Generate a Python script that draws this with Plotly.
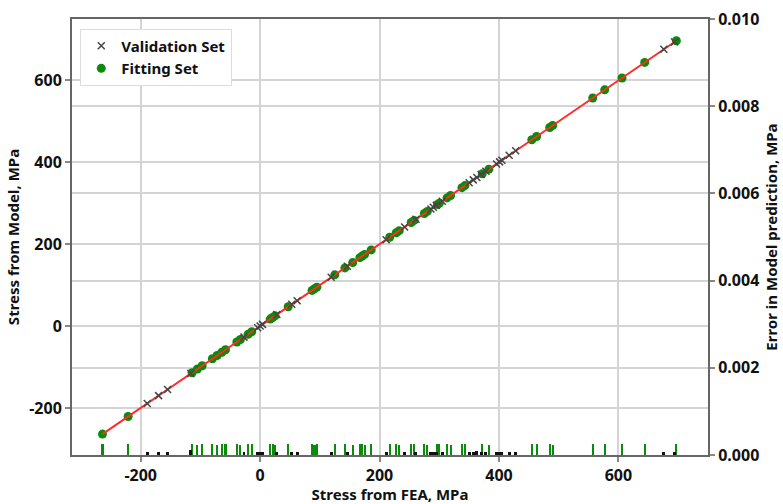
import plotly.graph_objects as go

# ---- data ----
fit_x = [-264, -221, -114, -105, -97, -80, -72, -64, -58, -39, -33, -20, -14,
         17, 21, 25, 47, 87, 91, 95, 125, 142, 155, 167, 171, 175, 186, 217,
         228, 233, 253, 258, 275, 280, 297, 300, 313, 319, 338, 343, 372, 383,
         455, 463, 485, 490, 557, 577, 606, 644, 697]
fit_y = [-264, -221, -114, -105, -97, -80, -72, -64, -58, -39, -33, -20, -14,
         17, 21, 25, 47, 87, 91, 95, 125, 142, 155, 167, 171, 175, 186, 217,
         228, 233, 253, 258, 275, 280, 297, 300, 313, 319, 338, 343, 372, 383,
         455, 463, 485, 490, 557, 577, 606, 644, 697]
fit_err = [0.00025, 0.00025, 0.00025, 0.00024, 0.00025, 0.00025, 0.00024, 0.00025,
           0.00025, 0.00025, 0.00024, 0.00025, 0.00025, 0.00026, 0.00025, 0.00024,
           0.00025, 0.00025, 0.00024, 0.00025, 0.00025, 0.00025, 0.00024, 0.00025,
           0.00025, 0.00024, 0.00025, 0.00025, 0.00025, 0.00024, 0.00025, 0.00025,
           0.00025, 0.00024, 0.00025, 0.00025, 0.00025, 0.00024, 0.00025, 0.00025,
           0.00025, 0.00024, 0.00025, 0.00025, 0.00025, 0.00024, 0.00025, 0.00025,
           0.00025, 0.00025, 0.00025]

val_x = [-189, -170, -155, -116, -27, -4, 0, 4, 28, 53, 62, 119, 146, 211,
         242, 261, 286, 290, 295, 305, 350, 357, 363, 370, 378, 396, 401, 405,
         417, 428, 676, 694]
val_y = [-189, -170, -155, -116, -27, -4, 0, 4, 28, 53, 62, 119, 146, 211,
         242, 261, 286, 290, 295, 305, 350, 357, 363, 370, 378, 396, 401, 405,
         417, 428, 676, 694]
val_err = [0.00007, 0.00007, 0.00007, 0.00012, 0.00008, 0.00007, 0.00008, 0.00007,
           0.00007, 0.00007, 0.00007, 0.00007, 0.00008, 0.00007, 0.00007, 0.00008,
           0.00008, 0.00007, 0.00007, 0.00007, 0.00008, 0.00007, 0.00009, 0.00007,
           0.00008, 0.00007, 0.00006, 0.00006, 0.00006, 0.00006, 0.00007, 0.00007]

x_ticks = [-200, 0, 200, 400, 600]
x_labels = ["-200", "0", "200", "400", "600"]
y_ticks = [-200, 0, 200, 400, 600]
y_labels = ["-200", "0", "200", "400", "600"]
y2_ticks = [0.0, 0.002, 0.004, 0.006, 0.008, 0.010]
y2_labels = ["0.000", "0.002", "0.004", "0.006", "0.008", "0.010"]

GREEN = "#0b8a0b"
FONT = "Noto Sans"

fig = go.Figure()

# error bars on the secondary axis
fig.add_trace(go.Bar(x=fit_x, y=fit_err, yaxis="y2", width=[3.5] * len(fit_x),
                     marker=dict(color=GREEN, line=dict(width=0)),
                     showlegend=False, hoverinfo="skip"))
fig.add_trace(go.Bar(x=val_x, y=val_err, yaxis="y2", width=[5] * len(val_x),
                     marker=dict(color="#111111", line=dict(width=0)),
                     showlegend=False, hoverinfo="skip"))

fig.add_trace(go.Scatter(x=fit_x, y=fit_y, mode="markers", name="Fitting Set",
                         legendrank=2,
                         marker=dict(symbol="circle", size=9, color=GREEN)))
fig.add_trace(go.Scatter(x=[min(fit_x), max(fit_x)], y=[min(fit_y), max(fit_y)],
                         mode="lines", line=dict(color="#ff2a2a", width=2),
                         showlegend=False, hoverinfo="skip"))
fig.add_trace(go.Scatter(x=val_x, y=val_y, mode="markers", name="Validation Set",
                         legendrank=1,
                         marker=dict(symbol="x-thin", size=7, color="#444444",
                                     line=dict(width=1.5, color="#444444"))))

axis_common = dict(showline=True, linecolor="#666666", linewidth=2,
                   ticks="outside", ticklen=5, tickcolor="#888888", tickwidth=1.5,
                   gridcolor="#d4d4d4", gridwidth=1.5, zeroline=False,
                   automargin=False,
                   tickfont=dict(family=FONT, size=16, color="#111111", weight="bold"))
title_font = dict(family=FONT, size=15, color="#111111", weight="bold")

fig.update_layout(
    width=783, height=504,
    margin=dict(l=72, r=75, t=19, b=49),
    paper_bgcolor="white", plot_bgcolor="white",
    barmode="overlay", bargap=0,
    font=dict(family=FONT, color="#111111"),
    xaxis=dict(range=[-315, 750], tickvals=x_ticks, ticktext=x_labels, mirror=True,
               title=dict(text="Stress from FEA, MPa", standoff=5, font=title_font),
               **axis_common),
    yaxis=dict(range=[-315, 750], tickvals=y_ticks, ticktext=y_labels, mirror=False,
               title=dict(text="Stress from Model, MPa", standoff=6, font=title_font),
               **axis_common),
    yaxis2=dict(range=[0, 0.010], tickvals=y2_ticks, ticktext=y2_labels,
                overlaying="y", side="right",
                title=dict(text="Error in Model prediction, MPa", standoff=8,
                           font=title_font),
                **axis_common),
    legend=dict(x=0.013, y=0.978, xanchor="left", yanchor="top",
                bgcolor="white", bordercolor="#dddddd", borderwidth=1,
                font=dict(family=FONT, size=15, weight="bold", color="#111111"),
                tracegroupgap=0, itemwidth=30),
)

fig.write_html("out.html")
